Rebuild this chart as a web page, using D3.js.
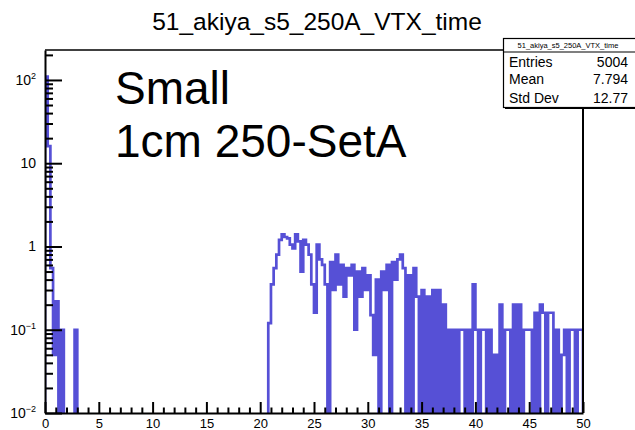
<!DOCTYPE html>
<html>
<head>
<meta charset="utf-8">
<script src="https://cdn.jsdelivr.net/npm/d3@7"></script>
<style>
  body { margin: 0; background: #fff; }
  text { font-family: "Liberation Sans", Arial, Helvetica, sans-serif; fill: #000; }
</style>
</head>
<body>
<svg id="chart" width="635" height="430"></svg>
<script>
// ---- histogram definition ----
const histTitle = "51_akiya_s5_250A_VTX_time";
const xRange = [0, 50];
const yRange = [0.01, 229];
const binWidth = 0.25;

// bin contents, 0.25 wide bins from 0 to 50 (10 bins per row = 2.5 units)
const binContent = [
  110, 16, 0.55, 0.05, 0.22, 0, 0.1, 0, 0, 0,               //  0.0 -  2.5
  0, 0.1, 0, 0, 0, 0, 0, 0, 0, 0,                           //  2.5 -  5.0
  0, 0, 0, 0, 0, 0, 0, 0, 0, 0,                             //  5.0 -  7.5
  0, 0, 0, 0, 0, 0, 0, 0, 0, 0,                             //  7.5 - 10.0
  0, 0, 0, 0, 0, 0, 0, 0, 0, 0,                             // 10.0 - 12.5
  0, 0, 0, 0, 0, 0, 0, 0, 0, 0,                             // 12.5 - 15.0
  0, 0, 0, 0, 0, 0, 0, 0, 0, 0,                             // 15.0 - 17.5
  0, 0, 0, 0, 0, 0, 0, 0, 0, 0,                             // 17.5 - 20.0
  0, 0, 0, 0.12, 0.35, 0.55, 0.8, 1.2, 1.4, 1.3,            // 20.0 - 22.5
  1.25, 1.05, 0.95, 1.4, 1.15, 0.5, 1.2, 1.05, 0.8, 0.35,   // 22.5 - 25.0
  0.16, 1.05, 0.7, 0.6, 0.35, 0, 0.65, 0.3, 0.8, 0.35,      // 25.0 - 27.5
  0.6, 0.25, 0.55, 0.45, 0.6, 0.1, 0.5, 0.25, 0.55, 0.3,    // 27.5 - 30.0
  0.45, 0.15, 0.05, 0.4, 0, 0.5, 0.3, 0.6, 0, 0.65,         // 30.0 - 32.5
  0.4, 0.7, 0.8, 0.55, 0, 0.45, 0, 0.55, 0.25, 0,           // 32.5 - 35.0
  0.3, 0, 0.25, 0, 0.3, 0, 0.3, 0, 0.2, 0,                  // 35.0 - 37.5
  0.1, 0, 0.1, 0, 0.1, 0.1, 0, 0.1, 0, 0.35,                // 37.5 - 40.0
  0.1, 0, 0.1, 0.1, 0, 0.1, 0, 0.05, 0, 0.2,                // 40.0 - 42.5
  0, 0.1, 0.1, 0, 0.2, 0, 0.2, 0, 0.1, 0.1,                 // 42.5 - 45.0
  0.1, 0, 0.16, 0, 0.2, 0.16, 0, 0.16, 0.16, 0,             // 45.0 - 47.5
  0.1, 0, 0.05, 0.1, 0, 0.1, 0.1, 0, 0.1, 0.1               // 47.5 - 50.0
];

const xMajorTicks = [0, 5, 10, 15, 20, 25, 30, 35, 40, 45, 50];
const xMinorTicks = [1, 2, 3, 4, 6, 7, 8, 9, 11, 12, 13, 14, 16, 17, 18, 19, 21, 22, 23, 24,
                     26, 27, 28, 29, 31, 32, 33, 34, 36, 37, 38, 39, 41, 42, 43, 44, 46, 47, 48, 49];
const yDecades = [0.01, 0.1, 1, 10, 100];
const yLabelBase = ["10", "10", "1", "10", "10"];
const yLabelExp  = ["\u22122", "\u22121", "", "", "2"];
const yMinorMantissa = [2, 3, 4, 5, 6, 7, 8, 9];

const statLabels = ["Entries", "Mean", "Std Dev"];
const statValues = ["5004", "7.794", "12.77"];
const padLabels = ["Small", "1cm 250-SetA"];

// ---- layout ----
const W = 635, H = 430;
const frame = { left: 45, right: 583, top: 50, bottom: 413 };
const histColor = "#5650d6";

const svg = d3.select("#chart");
svg.append("rect").attr("width", W).attr("height", H).attr("fill", "#fff");

const x = d3.scaleLinear().domain(xRange).range([frame.left, frame.right]);
const y = d3.scaleLog().domain(yRange).range([frame.bottom, frame.top]);

// title
svg.append("text")
  .attr("x", 317).attr("y", 30)
  .attr("text-anchor", "middle")
  .style("font-size", "24.5px")
  .text(histTitle);

// clip for the histogram
svg.append("clipPath").attr("id", "frameClip")
  .append("rect")
  .attr("x", frame.left).attr("y", frame.top)
  .attr("width", frame.right - frame.left)
  .attr("height", frame.bottom - frame.top);

// step outline of the histogram; empty bins fall to the bottom of the log frame
const yOf = v => (v > yRange[0] ? Math.max(y(v), frame.top - 2) : frame.bottom + 2);
let path = `M${x(xRange[0])},${frame.bottom + 2}`;
binContent.forEach((v, i) => {
  const x0 = x(xRange[0] + i * binWidth);
  const x1 = x(xRange[0] + (i + 1) * binWidth);
  const yy = yOf(v);
  path += `L${x0},${yy}L${x1},${yy}`;
});
path += `L${x(xRange[1])},${frame.bottom + 2}`;

svg.append("path")
  .attr("clip-path", "url(#frameClip)")
  .attr("d", path)
  .attr("fill", "none")
  .attr("stroke", histColor)
  .attr("stroke-width", 2.7)
  .attr("stroke-linejoin", "miter");

// frame (top and right)
svg.append("line")
  .attr("x1", frame.left).attr("x2", frame.right)
  .attr("y1", frame.top).attr("y2", frame.top)
  .attr("stroke", "#000").attr("stroke-width", 1.5);
svg.append("line")
  .attr("x1", frame.right).attr("x2", frame.right)
  .attr("y1", frame.top).attr("y2", frame.bottom)
  .attr("stroke", "#000").attr("stroke-width", 2);

// x axis: ticks point into the frame
const gx = svg.append("g").attr("transform", `translate(0,${frame.bottom})`);
gx.append("g")
  .call(d3.axisBottom(x).tickValues(xMinorTicks).tickSize(-5.5).tickFormat(""))
  .call(g => g.select(".domain").remove());
gx.append("g")
  .call(d3.axisBottom(x).tickValues(xMajorTicks).tickSizeInner(-11).tickSizeOuter(0).tickPadding(6).tickFormat(d3.format("d")));
gx.selectAll("line").attr("stroke-width", 2);
gx.selectAll(".domain").attr("stroke-width", 2);
gx.selectAll("text").style("font-size", "13px").attr("font-family", null);

// y axis: log decades with minor ticks at 2..9
const yMinorTicks = [];
yDecades.forEach(d => yMinorMantissa.forEach(m => {
  const v = d * m;
  if (v <= yRange[1]) yMinorTicks.push(v);
}));
const gy = svg.append("g").attr("transform", `translate(${frame.left},0)`);
gy.append("g")
  .call(d3.axisLeft(y).tickValues(yMinorTicks).tickSize(-8).tickFormat(""))
  .call(g => g.select(".domain").remove());
gy.append("g")
  .call(d3.axisLeft(y).tickValues(yDecades).tickSizeInner(-17).tickSizeOuter(0).tickFormat(""));
gy.selectAll("line").attr("stroke-width", 2);
gy.selectAll(".domain").attr("stroke-width", 2);

// y labels with superscript exponents, right aligned
yDecades.forEach((d, i) => {
  const t = svg.append("text")
    .attr("x", 36).attr("y", y(d) + 5)
    .attr("text-anchor", "end")
    .style("font-size", "14px");
  t.append("tspan").text(yLabelBase[i]);
  if (yLabelExp[i]) {
    t.append("tspan").attr("dy", -6).style("font-size", "9px").text(yLabelExp[i]);
  }
});

// free text on the pad
padLabels.forEach((s, i) => {
  svg.append("text")
    .attr("x", 115).attr("y", 104 + i * 53)
    .style("font-size", "46px")
    .text(s);
});

// statistics box with a thin drop shadow
const sb = { x: 503.5, y: 38.5, w: 140, titleH: 13.5, h: 69 };
svg.append("rect")
  .attr("x", sb.x + 1.5).attr("y", sb.y + 1.5).attr("width", sb.w).attr("height", sb.h)
  .attr("fill", "#000");
svg.append("rect")
  .attr("x", sb.x).attr("y", sb.y).attr("width", sb.w).attr("height", sb.h)
  .attr("fill", "#fff").attr("stroke", "#000").attr("stroke-width", 1.2);
svg.append("line")
  .attr("x1", sb.x).attr("x2", sb.x + sb.w)
  .attr("y1", sb.y + sb.titleH).attr("y2", sb.y + sb.titleH)
  .attr("stroke", "#000").attr("stroke-width", 1.2);
svg.append("text")
  .attr("x", 568).attr("y", sb.y + 9.5)
  .attr("text-anchor", "middle")
  .style("font-size", "7.5px")
  .text(histTitle);
statLabels.forEach((s, i) => {
  const by = [67, 84, 103][i];
  svg.append("text").attr("x", 509).attr("y", by).style("font-size", "14px").text(s);
  svg.append("text").attr("x", 628).attr("y", by).attr("text-anchor", "end")
    .style("font-size", "14px").text(statValues[i]);
});
</script>
</body>
</html>
